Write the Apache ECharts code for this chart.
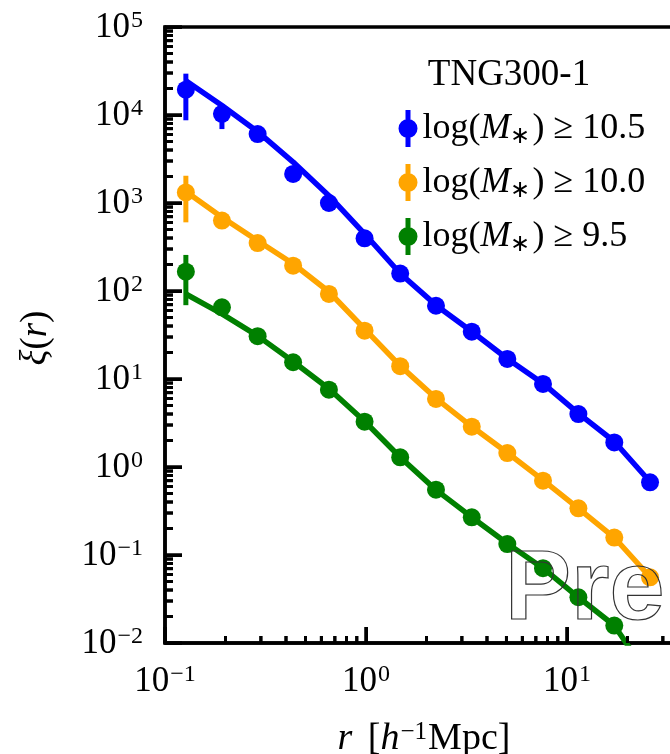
<!DOCTYPE html>
<html><head><meta charset="utf-8">
<script>
  window.__errs = [];
  window.addEventListener('error', function (e) { window.__errs.push('E:' + (e.message || e)); });
  (function () {
    const oe = console.error, ow = console.warn;
    console.error = function () { window.__errs.push('CE:' + Array.prototype.join.call(arguments, ' ')); oe.apply(console, arguments); };
    console.warn = function () { window.__errs.push('CW:' + Array.prototype.join.call(arguments, ' ')); ow.apply(console, arguments); };
  })();
</script>
<script src="https://cdn.jsdelivr.net/npm/echarts@6/dist/echarts.min.js"></script>
<style>html,body{margin:0;padding:0;background:#fff}#c{width:670px;height:754px}#d{position:absolute;left:2px;top:690px;width:160px;font:9px monospace;color:red;white-space:pre-wrap;word-break:break-all}</style>
</head><body><div id="c"></div><div id="d"></div>
<script>
// separation bins r [h^-1 Mpc]
const r = [0.127, 0.192, 0.289, 0.434, 0.654, 0.984, 1.48, 2.23, 3.36, 5.05, 7.60, 11.4, 17.2, 25.9];
// measured xi(r) points
const bluePts   = [19400, 10300, 6080, 2140, 1000, 397, 158, 68, 34.5, 16.9, 8.8, 4.0, 1.9, 0.67];
const orangePts = [1320, 631, 351, 194, 92.5, 35.4, 14.0, 5.93, 2.87, 1.44, 0.70, 0.339, 0.158, 0.0558];
const greenPts  = [166, 65.3, 30.7, 15.5, 7.57, 3.27, 1.29, 0.552, 0.268, 0.133, 0.0708, 0.0331, 0.0158];
// model curves
const blueLine   = [24500, 12800, 6460, 2920, 1210, 447, 158, 69, 34.7, 17.0, 8.9, 4.07, 1.95, 0.68];
const orangeLine = [1350, 690, 372, 204, 98, 37.2, 14.1, 6.03, 2.88, 1.45, 0.71, 0.339, 0.158, 0.0562];
const greenLine  = [92.5, 55, 30.9, 15.8, 7.76, 3.31, 1.29, 0.55, 0.269, 0.135, 0.0708, 0.0331, 0.0158, 0.0040];
// error bars [r, low, high]
const blueErr   = [[0.127, 8710, 29500], [0.192, 6920, 13300]];
const orangeErr = [[0.127, 603, 2040]];
const greenErr  = [[0.127, 69, 257]];
// ticks
const xMajor = [0.1, 1, 10];
const yMajor = [0.01, 0.1, 1, 10, 100, 1000, 10000, 100000];
const mant = [2, 3, 4, 5, 6, 7, 8, 9];
const xMinor = [0.1, 1, 10].flatMap(d => mant.map(m => +(m * d).toPrecision(3))).filter(v => v < 33);
const yMinor = [0.01, 0.1, 1, 10, 100, 1000, 10000].flatMap(d => mant.map(m => +(m * d).toPrecision(3)));
const names = ['log(M*) >= 10.5', 'log(M*) >= 10.0', 'log(M*) >= 9.5'];
const legendNum = ['10.5', '10.0', '9.5'];
const colors = ['#0000ff', '#ffa500', '#008000'];

const XMIN = 0.1, XMAX = 33.7, YMIN = 0.01, YMAX = 1e5;
const SERIF = 'Liberation Serif';

function powLabel(v) {
  const e = Math.round(Math.log10(v));
  if (Math.abs(Math.log10(v) - e) > 1e-6) return '';
  return '{b|10}{s|' + (e < 0 ? '\u2212' + (-e) : e) + '}';
}
const labelRich = {
  b: { fontFamily: SERIF, fontSize: 35, color: '#000', lineHeight: 36, verticalAlign: 'bottom' },
  s: { fontFamily: SERIF, fontSize: 24, color: '#000', lineHeight: 36, verticalAlign: 'top', padding: [0, 0, 12, 1] }
};

const chart = echarts.init(document.getElementById('c'));

function errSeries(data, color, k) {
  return {
    type: 'custom', name: 'err' + k, data: data, z: 3, silent: true,
    renderItem: function (params, api) {
      const p1 = api.coord([api.value(0), api.value(1)]);
      const p2 = api.coord([api.value(0), api.value(2)]);
      return { type: 'line', shape: { x1: p1[0], y1: p1[1], x2: p2[0], y2: p2[1] },
        style: { stroke: color, lineWidth: 5 } };
    }
  };
}
// all axis ticks through the chart scales: [x, y, direction(0 = x-axis, 1 = y-axis), length]
const tickData = []
  .concat(xMajor.map(v => [v, YMIN, 0, 16]))
  .concat(xMinor.map(v => [v, YMIN, 0, 7]))
  .concat(yMajor.map(v => [XMIN, v, 1, 17]))
  .concat(yMinor.map(v => [XMIN, v, 1, 8]));
const tickSeries = {
  type: 'custom', name: 'ticks', silent: true, z: 8,
  data: tickData,
  renderItem: function (params, api) {
    const p = api.coord([api.value(0), api.value(1)]);
    const len = api.value(3);
    const shape = api.value(2) === 0
      ? { x: p[0] - 1.5, y: p[1] - len, width: 3, height: len }
      : { x: p[0], y: p[1] - 1.5, width: len, height: 3 };
    return { type: 'rect', shape: shape, style: { fill: '#000000' } };
  }
};
const iconPath = 'path://M7,0 H12 V37 H7 Z M0,18.5 A9.5,9.5 0 1,1 19,18.5 A9.5,9.5 0 1,1 0,18.5 Z';

const pts = [bluePts, orangePts, greenPts];
const lines = [blueLine, orangeLine, greenLine];
const errs = [blueErr, orangeErr, greenErr];
const series = [];
for (let k = 0; k < 3; k++) {
  series.push({
    name: 'line' + k, type: 'line', data: lines[k].map((v, i) => [r[i], v]),
    symbol: 'none', showSymbol: false, silent: true, z: 2,
    lineStyle: { color: colors[k], width: 5.5 }
  });
  series.push(errSeries(errs[k], colors[k], k));
  series.push({
    name: names[k], type: 'scatter', data: pts[k].map((v, i) => [r[i], v]),
    symbol: 'circle', symbolSize: 18, z: 4, silent: true,
    itemStyle: { color: colors[k], opacity: 1 }
  });
}
series.push(tickSeries);

const baseGraphic = [
  { type: 'text', x: 509, y: 75, z: 10, silent: true,
    style: { text: 'TNG300-1', fontFamily: SERIF, fontSize: 37, fill: '#000', align: 'center', verticalAlign: 'middle' } },
  { type: 'text', x: 424, y: 739, z: 10, silent: true,
    style: {
      text: '{i|r}{sp| }{n|[}{i|h}{s|\u22121}{n|Mpc]}', align: 'center', verticalAlign: 'middle',
      rich: {
        n: { fontFamily: SERIF, fontSize: 38, fill: '#000', lineHeight: 38, verticalAlign: 'bottom' },
        sp: { fontFamily: SERIF, fontSize: 38, fill: '#000', lineHeight: 38, verticalAlign: 'bottom', padding: [0, 6, 0, 0] },
        i: { fontFamily: SERIF, fontSize: 38, fontStyle: 'italic', fill: '#000', lineHeight: 38, verticalAlign: 'bottom' },
        s: { fontFamily: SERIF, fontSize: 25, fill: '#000', lineHeight: 38, verticalAlign: 'top', padding: [0, 1, 12, 1] }
      }
    } },
  { type: 'text', x: 36, y: 338, rotation: Math.PI / 2, z: 10, silent: true,
    style: {
      text: '{i|\u03be}{n|(}{i|r}{n|)}', align: 'center', verticalAlign: 'middle',
      rich: {
        n: { fontFamily: SERIF, fontSize: 37, fill: '#000' },
        i: { fontFamily: SERIF, fontSize: 37, fontStyle: 'italic', fill: '#000' }
      }
    } },
  { type: 'text', x: 505, y: 592, z: 100, silent: true,
    style: { text: 'Pre', fontFamily: 'Liberation Sans', fontWeight: 'bold', fontSize: 99, fill: 'rgba(0,0,0,0)',
      stroke: '#333', lineWidth: 1.2, lineJoin: 'round', align: 'left', verticalAlign: 'middle' } }
];

const option = {
  animation: false,
  grid: { left: 165, right: -3, top: 27, bottom: 111, outerBoundsMode: 'none',
    show: true, borderColor: '#000', borderWidth: 3.5, backgroundColor: 'rgba(0,0,0,0)' },
  xAxis: {
    type: 'log', min: XMIN, max: XMAX, position: 'bottom', splitLine: { show: false },
    axisLine: { show: true, lineStyle: { color: '#000', width: 3.5 } },
    axisTick: { show: true, inside: true, length: 16, lineStyle: { color: '#000', width: 3 } },
    axisLabel: { show: true, margin: 20, formatter: powLabel, rich: labelRich, showMaxLabel: false }
  },
  yAxis: {
    type: 'log', min: YMIN, max: YMAX, position: 'left', splitLine: { show: false },
    axisLine: { show: true, lineStyle: { color: '#000', width: 3.5 } },
    axisTick: { show: true, inside: true, length: 17, lineStyle: { color: '#000', width: 3 } },
    axisLabel: { show: true, margin: 22, formatter: powLabel, rich: labelRich }
  },
  legend: {
    data: names.map(n => ({ name: n, icon: iconPath })),
    orient: 'vertical', left: 393.5, top: 105,
    itemWidth: 19, itemHeight: 37, itemGap: 15.5,
    selectedMode: false,
    formatter: function (n) {
      const i = names.indexOf(n);
      return '{n|log(}{i|M}{s|\u2217}{n|)}{g|\u2265}{n|' + legendNum[i] + '}';
    },
    textStyle: {
      fontFamily: SERIF, fontSize: 36, color: '#000',
      rich: {
        n: { fontFamily: SERIF, fontSize: 36, color: '#000', lineHeight: 40 },
        i: { fontFamily: SERIF, fontSize: 36, fontStyle: 'italic', color: '#000', lineHeight: 40 },
        s: { fontFamily: SERIF, fontSize: 24, color: '#000', lineHeight: 40, verticalAlign: 'bottom', padding: [0, 2, 0, 0] },
        g: { fontFamily: SERIF, fontSize: 36, color: '#000', lineHeight: 40, padding: [0, 9, 0, 9] }
      }
    }
  },
  graphic: baseGraphic,
  series: series
};
try { chart.setOption(option); } catch (e) { window.__errs.push('S1:' + e.message); }

// extra ticks as graphic lines, placed through the chart's scales
try {
  const finder = { xAxisIndex: 0, yAxisIndex: 0 };
  const tickEls = [];
  const addTick = (v, axis, len) => {
    const p = chart.convertToPixel(finder, axis === 'x' ? [v, YMIN] : [XMIN, v]);
    if (!p || isNaN(p[0]) || isNaN(p[1])) { window.__errs.push('P:' + v); return; }
    const shape = axis === 'x'
      ? { x1: p[0], y1: p[1], x2: p[0], y2: p[1] - len }
      : { x1: p[0], y1: p[1], x2: p[0] + len, y2: p[1] };
    tickEls.push({ type: 'line', shape: shape, z: 200, silent: true, style: { stroke: '#000', lineWidth: 3 } });
  };
  xMajor.forEach(v => addTick(v, 'x', 16));
  xMinor.forEach(v => addTick(v, 'x', 7));
  yMajor.forEach(v => addTick(v, 'y', 17));
  yMinor.forEach(v => addTick(v, 'y', 8));
  chart.setOption({ graphic: baseGraphic.concat(tickEls) });
} catch (e) { window.__errs.push('S2:' + e.message); }

setTimeout(function () {
  if (window.__errs.length) document.getElementById('d').textContent = window.__errs.slice(0, 6).join('\n').slice(0, 500);
}, 300);
</script>
</body></html>
